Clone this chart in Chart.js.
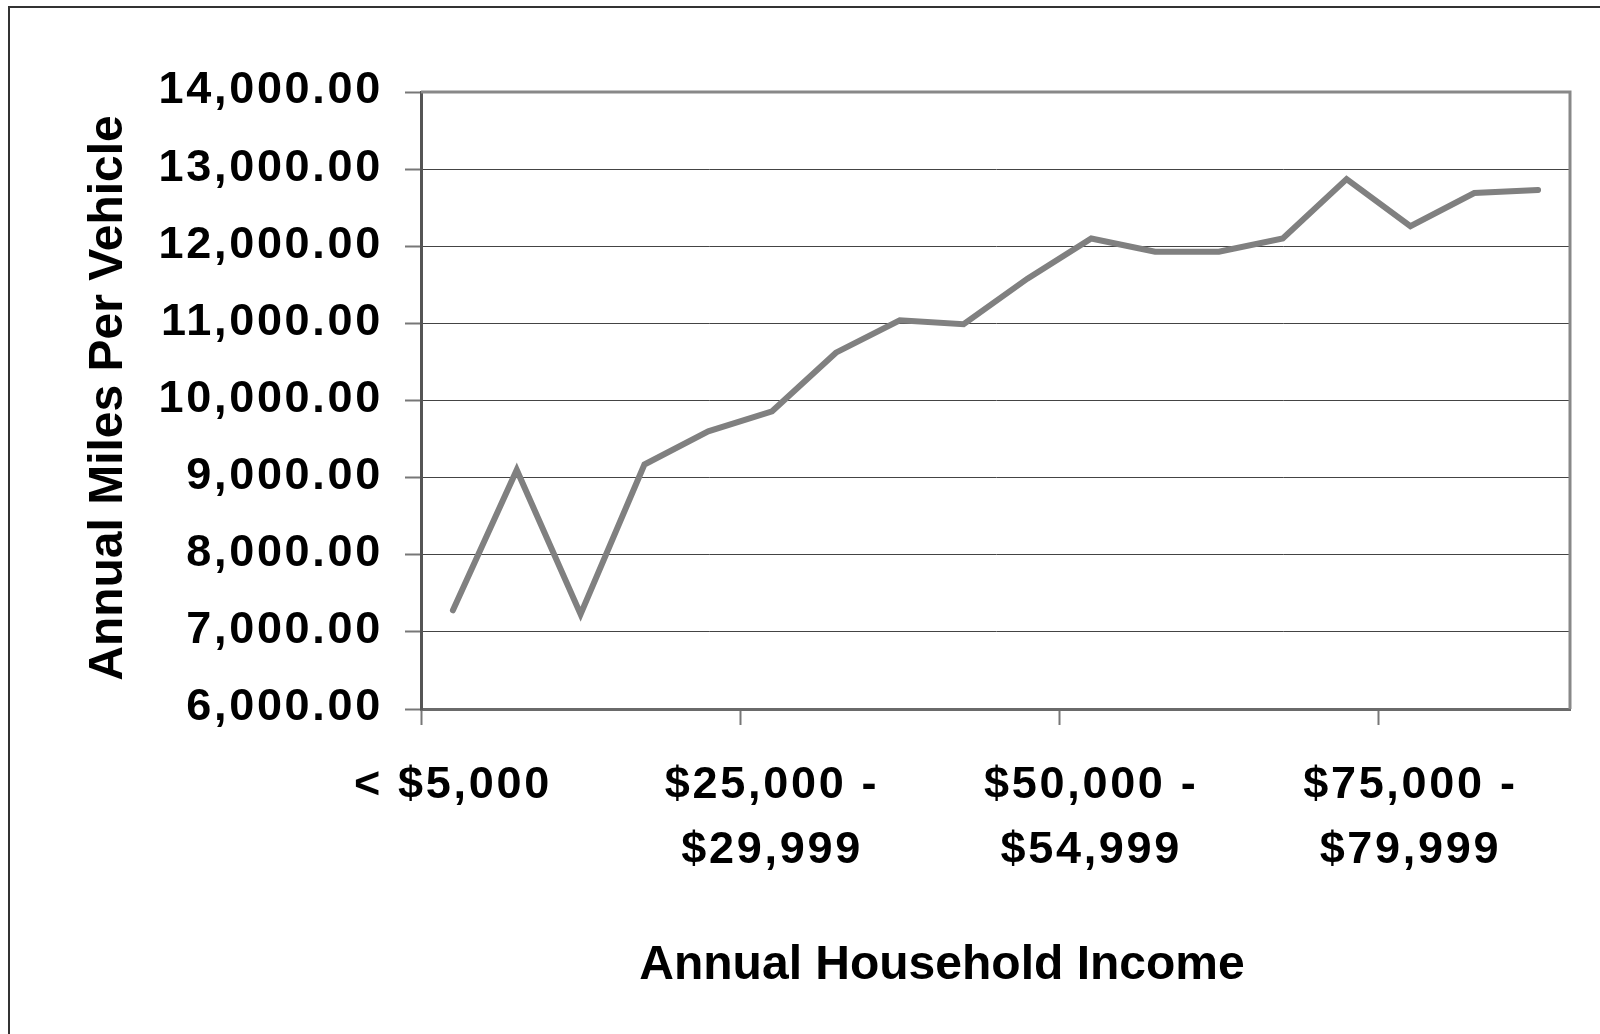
<!DOCTYPE html>
<html>
<head>
<meta charset="utf-8">
<script src="https://cdn.jsdelivr.net/npm/chart.js@4"></script>
<style>
  html, body { margin: 0; padding: 0; background: #fff; }
  #wrap { width: 1600px; height: 1034px; position: relative; }
  canvas { display: block; }
</style>
</head>
<body>
<div id="wrap"><canvas id="c" width="1600" height="1034"></canvas></div>
<script>
// ---- data ----
const categories = [
  '< $5,000', '$5,000 - $9,999', '$10,000 - $14,999', '$15,000 - $19,999',
  '$20,000 - $24,999', '$25,000 - $29,999', '$30,000 - $34,999', '$35,000 - $39,999',
  '$40,000 - $44,999', '$45,000 - $49,999', '$50,000 - $54,999', '$55,000 - $59,999',
  '$60,000 - $64,999', '$65,000 - $69,999', '$70,000 - $74,999', '$75,000 - $79,999',
  '$80,000 - $84,999', '$85,000 +'
];
const milesPerVehicle = [
  7280, 9100, 7230, 9170, 9600, 9860, 10620, 11040, 10990,
  11580, 12100, 11930, 11930, 12100, 12870, 12260, 12690, 12730
];
const yTickValues = [6000, 7000, 8000, 9000, 10000, 11000, 12000, 13000, 14000];
const labelEvery = 5;
const xTitle = 'Annual Household Income';
const yTitle = 'Annual Miles Per Vehicle';

const FONT = '"Liberation Sans", Arial, Helvetica, sans-serif';

function splitLabel(s) {
  const parts = s.split(' - ');
  return parts.length === 2 ? [parts[0] + ' -', parts[1]] : s;
}

const decor = {
  id: 'decor',
  beforeDraw(chart) {
    const ctx = chart.ctx;
    ctx.save();
    ctx.strokeStyle = '#333';
    ctx.lineWidth = 2;
    ctx.beginPath();
    ctx.moveTo(9, chart.height);
    ctx.lineTo(9, 7);
    ctx.lineTo(chart.width, 7);
    ctx.stroke();
    ctx.restore();
    ctx.letterSpacing = '2.7px';
  },
  beforeDatasetsDraw(chart) {
    const { ctx, chartArea: a } = chart;
    ctx.save();
    ctx.strokeStyle = '#888';
    ctx.lineWidth = 3;
    ctx.beginPath();
    ctx.moveTo(a.left, a.top);
    ctx.lineTo(a.right, a.top);
    ctx.lineTo(a.right, a.bottom);
    ctx.stroke();
    ctx.restore();
  },
  afterDraw(chart) {
    const ctx = chart.ctx;
    ctx.letterSpacing = '0px';
    ctx.save();
    ctx.fillStyle = '#000';
    ctx.font = 'bold 48px ' + FONT;
    ctx.textAlign = 'center';
    ctx.textBaseline = 'alphabetic';
    ctx.fillText(xTitle, 942, 979);
    ctx.translate(122, 398);
    ctx.rotate(-Math.PI / 2);
    ctx.fillText(yTitle, 0, 0);
    ctx.restore();
  }
};

new Chart(document.getElementById('c'), {
  type: 'line',
  data: {
    labels: categories,
    datasets: [{
      data: milesPerVehicle,
      borderColor: '#808080',
      borderWidth: 6,
      pointRadius: 0,
      pointHoverRadius: 0,
      tension: 0,
      fill: false,
      borderCapStyle: 'round',
      borderJoinStyle: 'miter'
    }]
  },
  options: {
    responsive: false,
    animation: false,
    devicePixelRatio: 1,
    layout: { padding: { top: 92, right: 30, left: 0, bottom: 0 } },
    plugins: { legend: { display: false }, tooltip: { enabled: false }, title: { display: false } },
    scales: {
      x: {
        type: 'category',
        offset: true,
        afterFit: s => { s.height = 325; },
        border: { display: true, color: '#6a6a6a', width: 3 },
        grid: {
          display: true,
          offset: true,
          drawOnChartArea: false,
          drawTicks: true,
          tickLength: 16,
          tickWidth: 2,
          tickColor: c => (c.index !== undefined && c.index % labelEvery === 0) ? '#777' : 'rgba(0,0,0,0)'
        },
        ticks: {
          autoSkip: false,
          maxRotation: 0,
          minRotation: 0,
          padding: 28,
          color: '#000',
          font: { family: FONT, weight: 'bold', size: 45, lineHeight: 1.45 },
          callback: (v, i) => (i % labelEvery === 0 ? splitLabel(categories[i]) : '')
        }
      },
      y: {
        min: yTickValues[0],
        max: yTickValues[yTickValues.length - 1],
        afterFit: s => { s.width = 421; },
        afterBuildTicks: s => { s.ticks = yTickValues.map(v => ({ value: v })); },
        border: { display: true, color: '#555', width: 3 },
        grid: {
          color: '#444',
          lineWidth: 1,
          drawTicks: true,
          tickLength: 16,
          tickWidth: 2,
          tickColor: '#777'
        },
        ticks: {
          padding: 22,
          labelOffset: -1,
          color: '#000',
          font: { family: FONT, weight: 'bold', size: 45 },
          callback: v => Number(v).toLocaleString('en-US', { minimumFractionDigits: 2, maximumFractionDigits: 2 })
        }
      }
    }
  },
  plugins: [decor]
});
</script>
</body>
</html>
